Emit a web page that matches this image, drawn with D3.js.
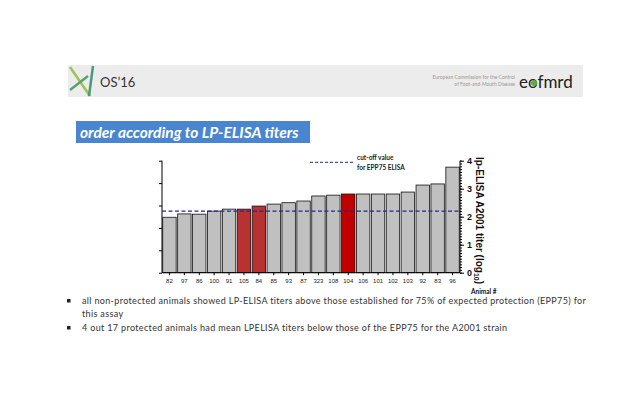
<!DOCTYPE html>
<html lang="en">
<head>
<meta charset="utf-8">
<title>LP-ELISA titers</title>
<script src="https://cdn.jsdelivr.net/npm/d3@7"></script>
<style>
  body { margin: 0; background: #fff; }
  svg { display: block; font-family: "Lato", "Open Sans", sans-serif; }
</style>
</head>
<body>
<script>
// animals ordered by lp-ELISA titer (log10)
var animals = ["82","97","86","100","91","105","84","85","93","87","323","108","104","106","101","102","103","92","83","96"];
var titers  = [1.98, 2.10, 2.09, 2.20, 2.27, 2.27, 2.38, 2.45, 2.50, 2.56, 2.74, 2.77, 2.81, 2.81, 2.81, 2.81, 2.88, 3.13, 3.17, 3.77];
var protectedIdx = ["105","84","104"];
var cutoff = 2.2;
var yTicks = [0, 1, 2, 3, 4];
var bullets = [
  ["all non-protected animals showed LP-ELISA titers above those established for 75% of expected protection (EPP75) for", "this assay"],
  ["4 out 17 protected animals had mean LPELISA titers below those of the EPP75 for the A2001 strain"]
];

var W = 638, H = 413;
var svg = d3.select("body").append("svg").attr("width", W).attr("height", H);

// header band
var head = svg.append("g");
head.append("rect").attr("x", 68).attr("y", 65).attr("width", 515).attr("height", 32).attr("fill", "#ececec");
head.append("line").attr("x1", 70).attr("y1", 67).attr("x2", 90).attr("y2", 96).attr("stroke", "#9cc450").attr("stroke-width", 2.5);
head.append("line").attr("x1", 70).attr("y1", 90).attr("x2", 88).attr("y2", 76).attr("stroke", "#5aa070").attr("stroke-width", 2.5);
head.append("line").attr("x1", 89).attr("y1", 96).attr("x2", 93).attr("y2", 66).attr("stroke", "#4a9a7a").attr("stroke-width", 2.5);
head.append("text").attr("x", 100).attr("y", 87).attr("font-size", 13).attr("fill", "#333").text("OS\u201916");
head.append("text").attr("x", 515).attr("y", 79).attr("text-anchor", "end").attr("font-size", 5).attr("fill", "#999").text("European Commission for the Control");
head.append("text").attr("x", 515).attr("y", 86).attr("text-anchor", "end").attr("font-size", 5).attr("fill", "#999").text("of Foot-and-Mouth Disease");
head.append("text").attr("x", 519).attr("y", 88).attr("font-size", 17).attr("fill", "#222").text("eofmrd");
head.append("circle").attr("cx", 534).attr("cy", 83).attr("r", 3).attr("fill", "#6aab2e");

// section title
svg.append("rect").attr("x", 76).attr("y", 121).attr("width", 234).attr("height", 22).attr("fill", "#4a86d0");
svg.append("text").attr("x", 80).attr("y", 137.5).attr("font-size", 15.5).attr("font-weight", "bold")
  .attr("font-style", "italic").attr("fill", "#fff").text("order according to LP-ELISA titers");

// chart
var x0 = 162, x1 = 460, yTop = 160.7, yBot = 272.7;
var x = d3.scaleBand().domain(animals).range([x0, x1]).paddingInner(0.1).paddingOuter(0.05);
var y = d3.scaleLinear().domain([0, 4]).range([yBot, yTop]);

var chart = svg.append("g");
chart.selectAll("rect.bar").data(animals).join("rect")
  .attr("class", "bar")
  .attr("x", d => x(d))
  .attr("y", (d, i) => y(titers[i]))
  .attr("width", x.bandwidth())
  .attr("height", (d, i) => yBot - y(titers[i]))
  .attr("fill", d => d == "104" ? "#c00000" : (protectedIdx.indexOf(d) >= 0 ? "#b83232" : "#c0c0c0"))
  .attr("stroke", "#111").attr("stroke-width", 0.8);

// x axis
var xAxis = chart.append("g").attr("transform", "translate(0," + yBot + ")")
  .call(d3.axisBottom(x).tickSize(2.5).tickPadding(3.5));
xAxis.selectAll("text").attr("font-size", 6).attr("fill", "#222");
xAxis.select(".domain").attr("d", "M" + x0 + ",0H" + x1);

// left axis, unlabelled ticks
var yl = d3.scaleLinear().domain([0, 5]).range([yBot, yTop]);
var leftAxis = chart.append("g").attr("transform", "translate(" + x0 + ",0)")
  .call(d3.axisLeft(yl).ticks(5).tickSize(3).tickFormat(""));
leftAxis.select(".domain").attr("d", "M0," + yTop + "V" + yBot);

// right axis with minor ticks
var rightMinor = chart.append("g").attr("transform", "translate(" + x1 + ",0)")
  .call(d3.axisRight(y).ticks(40).tickSize(2).tickFormat(""));
rightMinor.select(".domain").remove();
var rightAxis = chart.append("g").attr("transform", "translate(" + x1 + ",0)")
  .call(d3.axisRight(y).tickValues(yTicks).tickSize(4).tickPadding(3).tickFormat(d3.format("d")));
rightAxis.select(".domain").attr("d", "M0," + yTop + "V" + yBot);
rightAxis.selectAll("text").attr("font-size", 9).attr("font-weight", "bold").attr("fill", "#111");

// cut-off line
chart.append("line").attr("x1", x0).attr("x2", x1).attr("y1", y(cutoff)).attr("y2", y(cutoff))
  .attr("stroke", "#1f2a8a").attr("stroke-width", 1.3).attr("stroke-dasharray", "4,2.5");

// legend
chart.append("line").attr("x1", 310).attr("x2", 353).attr("y1", 162.3).attr("y2", 162.3)
  .attr("stroke", "#1f2a8a").attr("stroke-width", 1).attr("stroke-dasharray", "3,2");
chart.append("text").attr("x", 357).attr("y", 159.5).attr("font-size", 6.5).attr("font-weight", "bold").attr("fill", "#222").text("cut-off value");
chart.append("text").attr("x", 357).attr("y", 170).attr("font-size", 6.5).attr("font-weight", "bold").attr("fill", "#222").text("for EPP75 ELISA");

// axis titles
var yt = chart.append("text").attr("transform", "translate(476,157) rotate(90)")
  .attr("font-size", 10).attr("font-weight", "bold").attr("fill", "#111")
  .attr("font-family", "Liberation Sans, Arial, sans-serif");
yt.append("tspan").text("lp-ELISA A2001 titer (log");
yt.append("tspan").attr("font-size", 7).attr("dy", 2).text("10");
yt.append("tspan").attr("dy", -2).text(")");
chart.append("text").attr("x", 471).attr("y", 294).attr("font-size", 6.5).attr("font-weight", "bold")
  .attr("fill", "#111").text("Animal #");

// bullet notes
var lineY = 304;
bullets.forEach(function (b) {
  svg.append("rect").attr("x", 67).attr("y", lineY - 5).attr("width", 3.5).attr("height", 3.5).attr("fill", "#222");
  b.forEach(function (ln) {
    svg.append("text").attr("x", 82).attr("y", lineY).attr("font-size", 9).attr("letter-spacing", 0.35)
      .attr("fill", "#333").text(ln);
    lineY += 13;
  });
  lineY += 1;
});
</script>
</body>
</html>
